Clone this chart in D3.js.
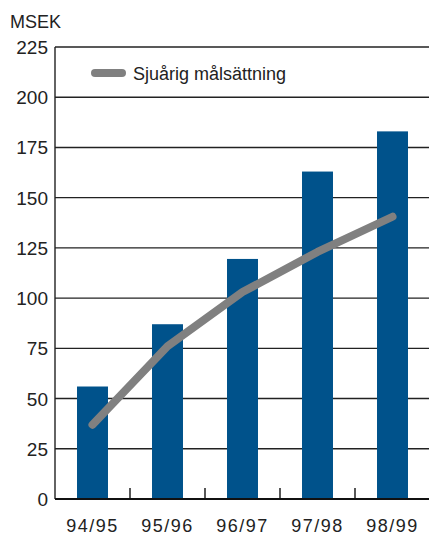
<!DOCTYPE html>
<html>
<head>
<meta charset="utf-8">
<script src="https://cdn.jsdelivr.net/npm/d3@7"></script>
<style>
  html, body { margin: 0; padding: 0; background: #fff; }
  svg { display: block; font-family: "Liberation Sans", Arial, sans-serif; }
</style>
</head>
<body>
<div id="chart"></div>
<script>
// chart values
const seasons = ["94/95", "95/96", "96/97", "97/98", "98/99"];
const actual = [56, 87, 119.5, 163, 183];
const target = [37, 76, 103, 123, 140.5];
const yTicks = [0, 25, 50, 75, 100, 125, 150, 175, 200, 225];
const legendLabel = "Sjuårig målsättning";
const unitLabel = "MSEK";

const W = 429, H = 536;
const margin = { top: 47, right: -1, bottom: 37, left: 55 };

const svg = d3.select("#chart").append("svg")
  .attr("width", W)
  .attr("height", H);

const x = d3.scaleBand()
  .domain(seasons)
  .range([margin.left, W - margin.right])
  .paddingInner(0.587)
  .paddingOuter(0.2935);

const y = d3.scaleLinear()
  .domain([0, 225])
  .range([H - margin.bottom, margin.top]);

// gridlines
svg.append("g")
  .selectAll("line")
  .data(yTicks.filter(d => d > 0))
  .join("line")
  .attr("x1", margin.left)
  .attr("x2", W)
  .attr("y1", d => y(d))
  .attr("y2", d => y(d))
  .attr("stroke", "#222")
  .attr("stroke-width", 1.4);

// y labels
svg.append("g")
  .selectAll("text")
  .data(yTicks)
  .join("text")
  .attr("x", 48)
  .attr("y", d => y(d) + 7)
  .attr("text-anchor", "end")
  .attr("font-size", 19)
  .attr("fill", "#222")
  .text(d => d);

svg.append("text")
  .attr("x", 10)
  .attr("y", 28)
  .attr("font-size", 18)
  .attr("fill", "#222")
  .text(unitLabel);

// bars
svg.append("g")
  .selectAll("rect")
  .data(seasons)
  .join("rect")
  .attr("x", d => x(d))
  .attr("width", x.bandwidth())
  .attr("y", (d, i) => y(actual[i]))
  .attr("height", (d, i) => y(0) - y(actual[i]))
  .attr("fill", "#00528b");

// left axis line
svg.append("line")
  .attr("x1", margin.left).attr("x2", margin.left)
  .attr("y1", y(225)).attr("y2", y(0))
  .attr("stroke", "#222")
  .attr("stroke-width", 1.4);

// bottom axis + inner ticks between categories
svg.append("line")
  .attr("x1", margin.left).attr("x2", W)
  .attr("y1", y(0)).attr("y2", y(0))
  .attr("stroke", "#111")
  .attr("stroke-width", 2);

svg.append("g")
  .selectAll("line")
  .data(seasons.slice(1))
  .join("line")
  .attr("x1", d => x(d) - x.step() * x.paddingInner() / 2)
  .attr("x2", d => x(d) - x.step() * x.paddingInner() / 2)
  .attr("y1", y(0))
  .attr("y2", y(0) - 11)
  .attr("stroke", "#111")
  .attr("stroke-width", 1.4);

// x labels
svg.append("g")
  .selectAll("text")
  .data(seasons)
  .join("text")
  .attr("x", d => x(d) + x.bandwidth() / 2)
  .attr("y", 532)
  .attr("text-anchor", "middle")
  .attr("font-size", 18)
  .attr("letter-spacing", 1.5)
  .attr("fill", "#222")
  .text(d => d);

// target line
const line = d3.line()
  .x((d, i) => x(seasons[i]) + x.bandwidth() / 2)
  .y(d => y(d));

svg.append("path")
  .datum(target)
  .attr("d", line)
  .attr("fill", "none")
  .attr("stroke", "#808080")
  .attr("stroke-width", 8)
  .attr("stroke-linecap", "round")
  .attr("stroke-linejoin", "round");

// legend
svg.append("line")
  .attr("x1", 95).attr("x2", 122)
  .attr("y1", 73).attr("y2", 73)
  .attr("stroke", "#808080")
  .attr("stroke-width", 8)
  .attr("stroke-linecap", "round");

svg.append("text")
  .attr("x", 133)
  .attr("y", 80)
  .attr("font-size", 18)
  .attr("fill", "#222")
  .text(legendLabel);
</script>
</body>
</html>
